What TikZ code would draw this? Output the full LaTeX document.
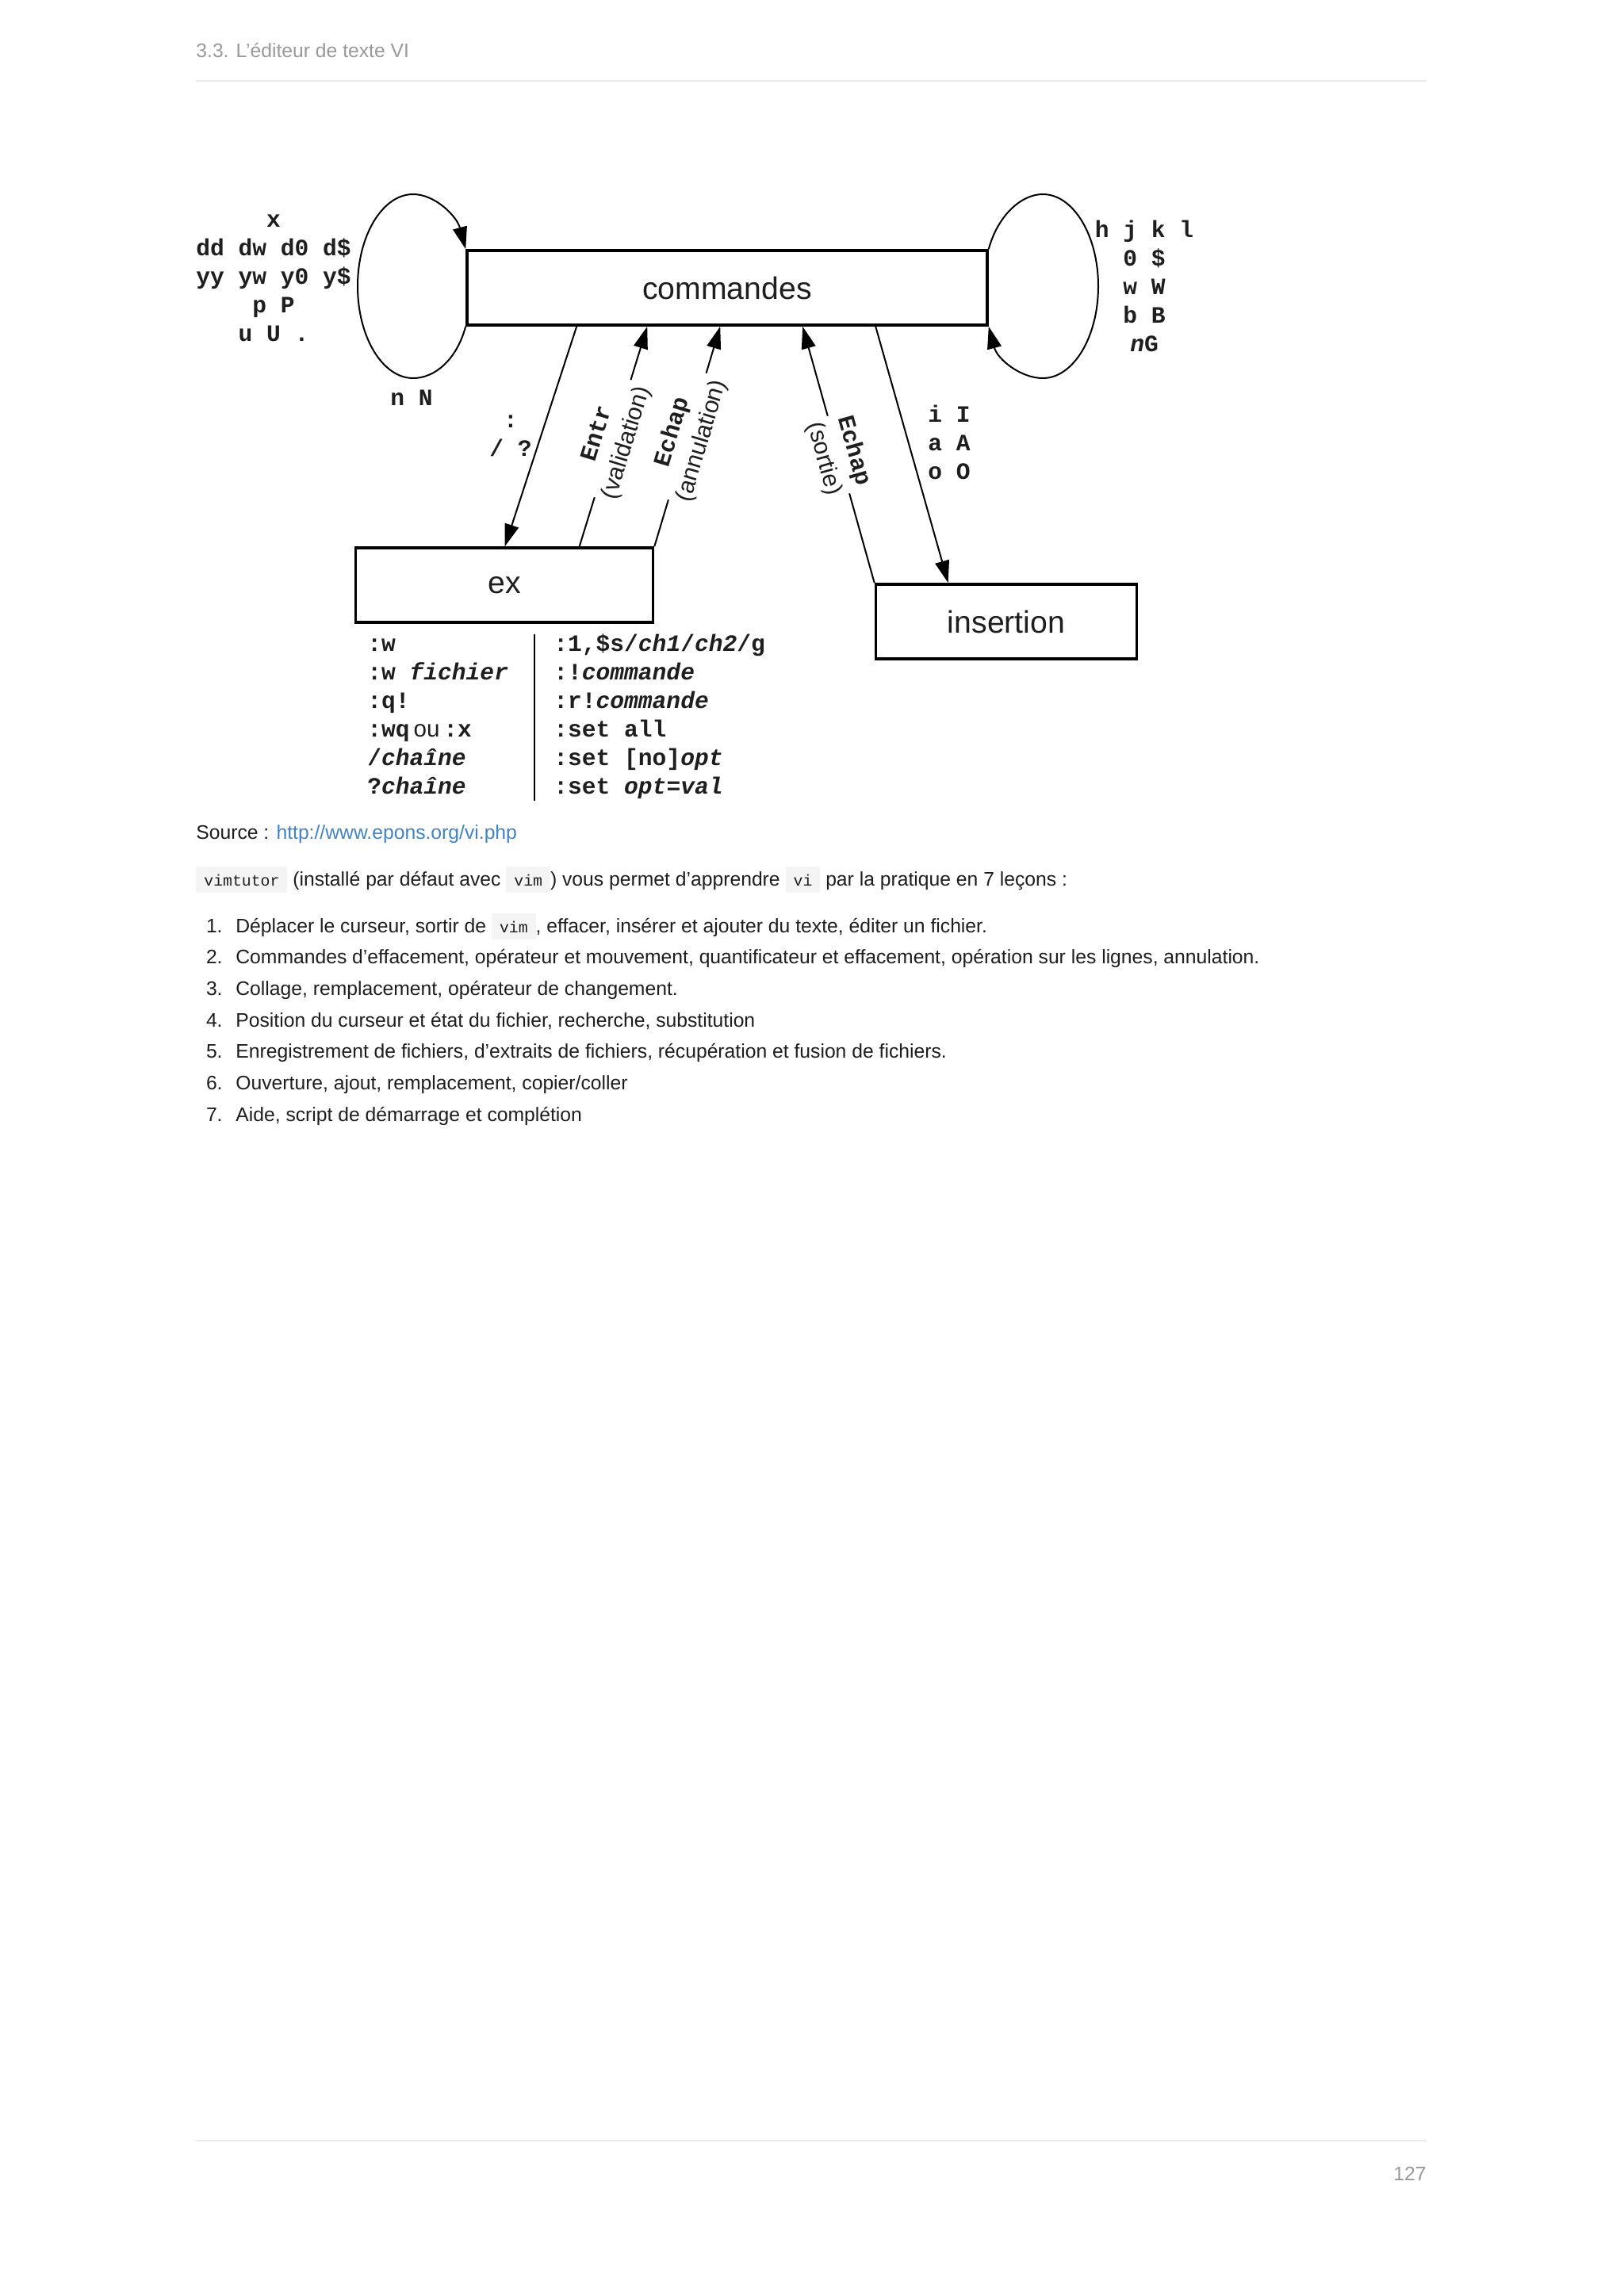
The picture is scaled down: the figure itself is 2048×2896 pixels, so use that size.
\documentclass[tikz,border=0pt]{standalone}
\usepackage{fontspec}
\setmainfont{Liberation Sans}
\setsansfont{Liberation Sans}
\setmonofont{Liberation Mono}
\usepackage{xcolor}
\usepackage{tikz}
\usetikzlibrary{arrows.meta}

\definecolor{ink}{HTML}{1E1E1E}
\definecolor{pagegray}{HTML}{999999}
\definecolor{rulegray}{HTML}{EBEBEB}
\definecolor{linkblue}{HTML}{4183C4}
\definecolor{codebg}{HTML}{F4F4F4}

\newcommand\keyname[1]{{\ttfamily\bfseries #1}}
\newcommand\inlinecode[1]{{\setlength{\fboxsep}{0pt}\colorbox{codebg}{\rule[-4.5pt]{0pt}{16.5pt}\hspace{5pt}{\fontsize{9.9pt}{12pt}\selectfont\ttfamily #1}\hspace{5pt}}}}

\tikzset{
  >={Triangle[length=14pt,width=9pt]},
  every node/.style={text=ink},
  modebox/.style={draw=black,line width=1.8pt,fill=white,minimum height=47pt,inner sep=0pt,font={\fontsize{19.6pt}{22pt}\selectfont}},
  keytext/.style={align=center,inner sep=0pt,font={\fontsize{14.8pt}{18pt}\selectfont\ttfamily\bfseries}},
  cmdlist/.style={keytext,align=left,anchor=west},
  modearrow/.style={->,line width=1pt,draw=black},
  modeloop/.style={->,line width=1pt,draw=black},
  nearcorner/.style={out distance=21.5pt,in distance=13.8pt},
  tocorner/.style={out distance=13.8pt,in distance=21.5pt},
  sidearc/.style={out distance=19.4pt,in distance=31.8pt},
  toparc/.style={out distance=31.8pt,in distance=19.4pt},
  edgelabel/.style={sloped,fill=white,align=center,inner sep=2pt,font={\fontsize{15pt}{19.5pt}\selectfont}},
  bodytext/.style={anchor=base west,inner sep=0pt,font={\fontsize{12.35pt}{15pt}\selectfont}},
  pagerule/.style={draw=rulegray,line width=1.2pt}
}

\begin{document}
\begin{tikzpicture}[x=0.5pt,y=0.5pt]
  \path[use as bounding box,fill=white] (0,0) rectangle (2048,-2896);

  % page header
  \node[bodytext,text=pagegray] (chapter) at (247,-72) {3.3. L'éditeur de texte VI};
  \draw[pagerule] (247,-102) -- (1799,-102);

  % the three modes
  \node[modebox,minimum width=328pt] (cmd) at (917,-363) {commandes};
  \node[modebox,minimum width=187.5pt] (ex) at (636,-738) {ex};
  \node[modebox,minimum width=164.5pt] (ins) at (1269,-784) {insertion};

  % loops on commandes
  \coordinate (lbot) at (521,-477);
  \coordinate (lleft) at (451,-361);
  \coordinate (ltop) at (521,-245);
  \coordinate (rtop) at (1315,-245);
  \coordinate (rright) at (1385,-361);
  \coordinate (rbot) at (1315,-477);
  \draw[modeloop] (cmd.south west) to[out=-105,in=0,nearcorner] (lbot) to[out=180,in=-90,sidearc] (lleft)
    to[out=90,in=180,toparc] (ltop) to[out=0,in=105,tocorner] (cmd.north west);
  \draw[modeloop] (cmd.north east) to[out=75,in=180,nearcorner] (rtop) to[out=0,in=90,sidearc] (rright)
    to[out=-90,in=0,toparc] (rbot) to[out=180,in=-75,tocorner] (cmd.south east);

  \node[keytext] (editkeys) at (345,-351) {x\\dd dw d0 d\$\\yy yw y0 y\$\\p P\\u U .};
  \node[keytext] (searchkeys) at (519,-502) {n N};
  \node[keytext] (movekeys) at (1443,-361) {h j k l\\0 \$\\w W\\b B\\\textit{n}G};

  % transitions
  \draw[modearrow] ([xshift=70pt]cmd.south west) -- ([xshift=95pt]ex.north west);
  \node[keytext] (exkeys) at (644,-550) {:\\/ ?};
  \draw[modearrow] ([xshift=142pt]ex.north west) -- node[edgelabel,pos=0.49]{\keyname{Entr}\\(validation)} ([xshift=114.5pt]cmd.south west);
  \draw[modearrow] (ex.north east) -- node[edgelabel,pos=0.5]{\keyname{Echap}\\(annulation)} ([xshift=160.5pt]cmd.south west);
  \draw[modearrow] (ins.north west) -- node[edgelabel,pos=0.5]{\keyname{Echap}\\(sortie)} ([xshift=212.5pt]cmd.south west);
  \draw[modearrow] ([xshift=258.5pt]cmd.south west) -- ([xshift=46.5pt]ins.north west);
  \node[keytext] (inskeys) at (1197,-558) {i I\\a A\\o O};

  % ex commands
  \node[cmdlist] (exleft) at (463,-904) {:w\\:w \textit{fichier}\\:q!\\:wq\,{\mdseries\sffamily ou}\,:x\\/\textit{chaîne}\\?\textit{chaîne}};
  \node[cmdlist] (exright) at (698,-904) {:1,\$s/\textit{ch1}/\textit{ch2}/g\\:!\textit{commande}\\:r!\textit{commande}\\:set all\\:set [no]\textit{opt}\\:set \textit{opt}=\textit{val}};
  \draw[line width=1.2pt] (674,-800) -- (674,-1010);

  % page text
  \node[bodytext] (source) at (247,-1058) {Source : \textcolor{linkblue}{http://www.epons.org/vi.php}};
  \node[bodytext] (intro) at (247,-1117) {\inlinecode{vimtutor} (installé par défaut avec \inlinecode{vim}) vous permet d’apprendre \inlinecode{vi} par la pratique en 7 leçons :};

  \foreach \k in {1,...,7}
    \node[bodytext,anchor=base east] (num\k) at (281,{-1176-39.7*(\k-1)}) {\k.};
  \node[bodytext] (lesson1) at ([xshift=8pt]num1.base east) {Déplacer le curseur, sortir de \inlinecode{vim}, effacer, insérer et ajouter du texte, éditer un fichier.};
  \node[bodytext] (lesson2) at ([xshift=8pt]num2.base east) {Commandes d’effacement, opérateur et mouvement, quantificateur et effacement, opération sur les lignes, annulation.};
  \node[bodytext] (lesson3) at ([xshift=8pt]num3.base east) {Collage, remplacement, opérateur de changement.};
  \node[bodytext] (lesson4) at ([xshift=8pt]num4.base east) {Position du curseur et état du fichier, recherche, substitution};
  \node[bodytext] (lesson5) at ([xshift=8pt]num5.base east) {Enregistrement de fichiers, d’extraits de fichiers, récupération et fusion de fichiers.};
  \node[bodytext] (lesson6) at ([xshift=8pt]num6.base east) {Ouverture, ajout, remplacement, copier/coller};
  \node[bodytext] (lesson7) at ([xshift=8pt]num7.base east) {Aide, script de démarrage et complétion};

  % page footer
  \draw[pagerule] (247,-2700) -- (1799,-2700);
  \node[bodytext,anchor=base east,text=pagegray] (pagenum) at (1799,-2750) {127};
\end{tikzpicture}
\end{document}
